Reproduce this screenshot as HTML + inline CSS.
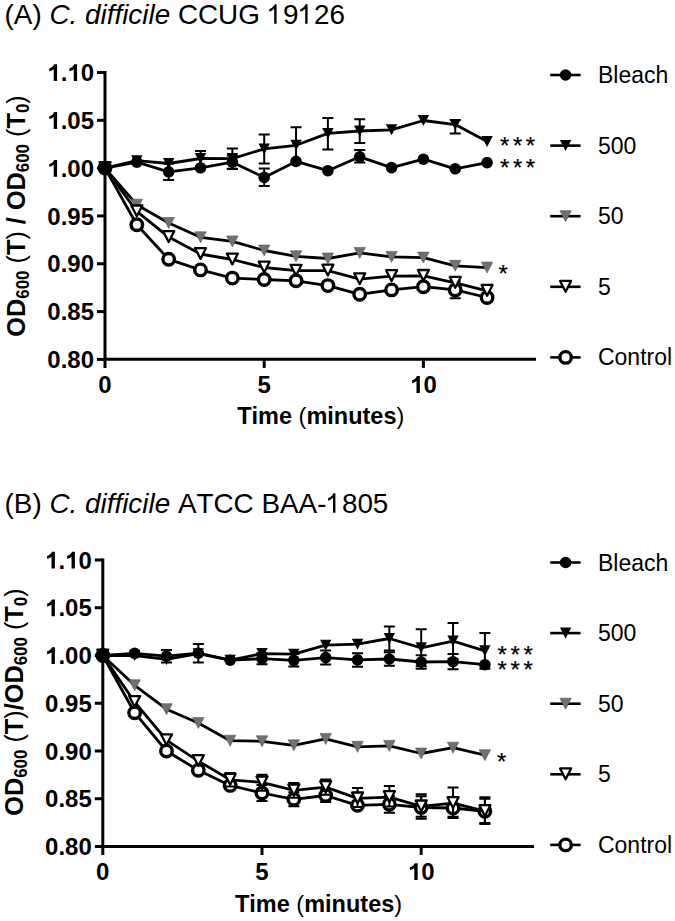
<!DOCTYPE html>
<html><head><meta charset="utf-8"><style>
html,body{margin:0;padding:0;background:#fff;}
svg{display:block;}
text{font-family:"Liberation Sans", sans-serif;font-kerning:none;}
.tk{font-weight:bold;font-size:24px;}
.ax{font-size:23.5px;}
.yl{font-weight:bold;font-size:25.3px;}
.p{font-weight:normal;}
.sub{font-size:16.9px;}
.lg{font-size:23px;}
.ti{font-size:27.85px;}
.st{font-size:24px;stroke:#000;stroke-width:0.2px;}
</style></head><body>
<svg width="675" height="921" viewBox="0 0 675 921">
<rect width="675" height="921" fill="#fff"/>
<text x="4.6" y="23.8" class="ti">(A) <tspan font-style="italic">C. difficile</tspan> CCUG &#8199;9&#8199;26</text>
<path d="M658 0L482 0L482 1100C430 1050 360 1000 290 960C230 925 170 905 121 890L121 1070C220 1110 310 1170 380 1240C450 1310 500 1370 525 1430L658 1430Z" transform="translate(267.652,23.800) scale(0.013599,-0.013599)" fill="#000"/><path d="M658 0L482 0L482 1100C430 1050 360 1000 290 960C230 925 170 905 121 890L121 1070C220 1110 310 1170 380 1240C450 1310 500 1370 525 1430L658 1430Z" transform="translate(298.630,23.800) scale(0.013599,-0.013599)" fill="#000"/>
<path d="M105.00,71.00V367.90" stroke="#000" stroke-width="3" fill="none"/>
<path d="M105.00,359.30H536.00" stroke="#000" stroke-width="3" fill="none"/>
<path d="M97.00,72.50H105.00" stroke="#000" stroke-width="3"/>
<text x="94.00" y="81.10" transform="matrix(1,0,0,1.035,0,-2.838)" text-anchor="end" class="tk">&#8199;.&#8199;0</text><path d="M836 0L550 0L550 1020C450 930 320 875 170 850L170 1080C260 1105 350 1150 430 1215C510 1280 565 1350 590 1434L836 1434Z" transform="translate(47.289,81.100) scale(0.011719,-0.011719)" fill="#000"/><path d="M836 0L550 0L550 1020C450 930 320 875 170 850L170 1080C260 1105 350 1150 430 1215C510 1280 565 1350 590 1434L836 1434Z" transform="translate(67.305,81.100) scale(0.011719,-0.011719)" fill="#000"/>
<path d="M97.00,120.32H105.00" stroke="#000" stroke-width="3"/>
<text x="94.00" y="128.92" transform="matrix(1,0,0,1.035,0,-4.512)" text-anchor="end" class="tk">&#8199;.05</text><path d="M836 0L550 0L550 1020C450 930 320 875 170 850L170 1080C260 1105 350 1150 430 1215C510 1280 565 1350 590 1434L836 1434Z" transform="translate(47.289,128.917) scale(0.011719,-0.011719)" fill="#000"/>
<path d="M97.00,168.13H105.00" stroke="#000" stroke-width="3"/>
<text x="94.00" y="176.73" transform="matrix(1,0,0,1.035,0,-6.186)" text-anchor="end" class="tk">&#8199;.00</text><path d="M836 0L550 0L550 1020C450 930 320 875 170 850L170 1080C260 1105 350 1150 430 1215C510 1280 565 1350 590 1434L836 1434Z" transform="translate(47.289,176.733) scale(0.011719,-0.011719)" fill="#000"/>
<path d="M97.00,215.95H105.00" stroke="#000" stroke-width="3"/>
<text x="94.00" y="224.55" transform="matrix(1,0,0,1.035,0,-7.859)" text-anchor="end" class="tk">0.95</text>
<path d="M97.00,263.77H105.00" stroke="#000" stroke-width="3"/>
<text x="94.00" y="272.37" transform="matrix(1,0,0,1.035,0,-9.533)" text-anchor="end" class="tk">0.90</text>
<path d="M97.00,311.58H105.00" stroke="#000" stroke-width="3"/>
<text x="94.00" y="320.18" transform="matrix(1,0,0,1.035,0,-11.206)" text-anchor="end" class="tk">0.85</text>
<path d="M97.00,359.40H105.00" stroke="#000" stroke-width="3"/>
<text x="94.00" y="368.00" transform="matrix(1,0,0,1.035,0,-12.880)" text-anchor="end" class="tk">0.80</text>
<path d="M264.20,359.30V367.90" stroke="#000" stroke-width="3"/>
<path d="M423.40,359.30V367.90" stroke="#000" stroke-width="3"/>
<text x="105.00" y="392.90" transform="matrix(1,0,0,1.035,0,-13.751)" text-anchor="middle" class="tk">0</text>
<text x="264.20" y="392.90" transform="matrix(1,0,0,1.035,0,-13.751)" text-anchor="middle" class="tk">5</text>
<text x="423.40" y="392.90" transform="matrix(1,0,0,1.035,0,-13.751)" text-anchor="middle" class="tk">&#8199;0</text><path d="M836 0L550 0L550 1020C450 930 320 875 170 850L170 1080C260 1105 350 1150 430 1215C510 1280 565 1350 590 1434L836 1434Z" transform="translate(410.052,392.900) scale(0.011719,-0.011719)" fill="#000"/>
<text x="320.75" y="423.90" transform="matrix(1,0,0,1.035,0,-14.836)" text-anchor="middle" class="tk ax">Time <tspan class="p">(</tspan>minutes<tspan class="p">)</tspan></text>
<text transform="translate(25.0,215.95) rotate(-90) scale(1,1.035)" text-anchor="middle" class="yl">OD<tspan class="sub" dy="4.2">600</tspan><tspan dy="-4.2"> </tspan><tspan class="p">(</tspan>T<tspan class="p">)</tspan> / OD<tspan class="sub" dy="4.2">600</tspan><tspan dy="-4.2"> </tspan><tspan class="p">(</tspan>T<tspan class="sub" dy="4.2">0</tspan><tspan class="p" dy="-4.2">)</tspan></text>
<polyline points="105.00,168.10 136.84,224.80 168.68,259.30 200.52,269.90 232.36,278.10 264.20,279.50 296.04,280.80 327.88,285.60 359.72,294.30 391.56,289.90 423.40,286.70 455.24,289.90 487.08,297.50" fill="none" stroke="#000" stroke-width="2.8" stroke-linejoin="round"/>
<path d="M455.24,281.50V298.30M449.74,281.50H460.74M449.74,298.30H460.74" stroke="#000" stroke-width="2" fill="none"/>
<circle cx="105.00" cy="168.10" r="5.75" fill="#fff" stroke="#000" stroke-width="3.4"/>
<circle cx="136.84" cy="224.80" r="5.75" fill="#fff" stroke="#000" stroke-width="3.4"/>
<circle cx="168.68" cy="259.30" r="5.75" fill="#fff" stroke="#000" stroke-width="3.4"/>
<circle cx="200.52" cy="269.90" r="5.75" fill="#fff" stroke="#000" stroke-width="3.4"/>
<circle cx="232.36" cy="278.10" r="5.75" fill="#fff" stroke="#000" stroke-width="3.4"/>
<circle cx="264.20" cy="279.50" r="5.75" fill="#fff" stroke="#000" stroke-width="3.4"/>
<circle cx="296.04" cy="280.80" r="5.75" fill="#fff" stroke="#000" stroke-width="3.4"/>
<circle cx="327.88" cy="285.60" r="5.75" fill="#fff" stroke="#000" stroke-width="3.4"/>
<circle cx="359.72" cy="294.30" r="5.75" fill="#fff" stroke="#000" stroke-width="3.4"/>
<circle cx="391.56" cy="289.90" r="5.75" fill="#fff" stroke="#000" stroke-width="3.4"/>
<circle cx="423.40" cy="286.70" r="5.75" fill="#fff" stroke="#000" stroke-width="3.4"/>
<circle cx="455.24" cy="289.90" r="5.75" fill="#fff" stroke="#000" stroke-width="3.4"/>
<circle cx="487.08" cy="297.50" r="5.75" fill="#fff" stroke="#000" stroke-width="3.4"/>
<polyline points="105.00,168.10 136.84,204.70 168.68,223.00 200.52,237.30 232.36,241.40 264.20,250.50 296.04,256.30 327.88,258.50 359.72,252.90 391.56,256.90 423.40,257.60 455.24,265.80 487.08,267.60" fill="none" stroke="#000" stroke-width="2.8" stroke-linejoin="round"/>
<path d="M99.30,162.60H110.70L105.00,173.60Z" fill="#707070" stroke="#555" stroke-width="0.6"/>
<path d="M131.14,199.20H142.54L136.84,210.20Z" fill="#707070" stroke="#555" stroke-width="0.6"/>
<path d="M162.98,217.50H174.38L168.68,228.50Z" fill="#707070" stroke="#555" stroke-width="0.6"/>
<path d="M194.82,231.80H206.22L200.52,242.80Z" fill="#707070" stroke="#555" stroke-width="0.6"/>
<path d="M226.66,235.90H238.06L232.36,246.90Z" fill="#707070" stroke="#555" stroke-width="0.6"/>
<path d="M258.50,245.00H269.90L264.20,256.00Z" fill="#707070" stroke="#555" stroke-width="0.6"/>
<path d="M290.34,250.80H301.74L296.04,261.80Z" fill="#707070" stroke="#555" stroke-width="0.6"/>
<path d="M322.18,253.00H333.58L327.88,264.00Z" fill="#707070" stroke="#555" stroke-width="0.6"/>
<path d="M354.02,247.40H365.42L359.72,258.40Z" fill="#707070" stroke="#555" stroke-width="0.6"/>
<path d="M385.86,251.40H397.26L391.56,262.40Z" fill="#707070" stroke="#555" stroke-width="0.6"/>
<path d="M417.70,252.10H429.10L423.40,263.10Z" fill="#707070" stroke="#555" stroke-width="0.6"/>
<path d="M449.54,260.30H460.94L455.24,271.30Z" fill="#707070" stroke="#555" stroke-width="0.6"/>
<path d="M481.38,262.10H492.78L487.08,273.10Z" fill="#707070" stroke="#555" stroke-width="0.6"/>
<polyline points="105.00,168.10 136.84,211.40 168.68,237.10 200.52,254.00 232.36,259.50 264.20,267.50 296.04,270.70 327.88,270.60 359.72,279.20 391.56,276.10 423.40,275.90 455.24,282.80 487.08,290.80" fill="none" stroke="#000" stroke-width="2.8" stroke-linejoin="round"/>
<path d="M99.50,162.20H110.50L105.00,173.00Z" fill="#fff" stroke="#000" stroke-width="2.3" stroke-linejoin="round"/>
<path d="M131.34,205.50H142.34L136.84,216.30Z" fill="#fff" stroke="#000" stroke-width="2.3" stroke-linejoin="round"/>
<path d="M163.18,231.20H174.18L168.68,242.00Z" fill="#fff" stroke="#000" stroke-width="2.3" stroke-linejoin="round"/>
<path d="M195.02,248.10H206.02L200.52,258.90Z" fill="#fff" stroke="#000" stroke-width="2.3" stroke-linejoin="round"/>
<path d="M226.86,253.60H237.86L232.36,264.40Z" fill="#fff" stroke="#000" stroke-width="2.3" stroke-linejoin="round"/>
<path d="M258.70,261.60H269.70L264.20,272.40Z" fill="#fff" stroke="#000" stroke-width="2.3" stroke-linejoin="round"/>
<path d="M290.54,264.80H301.54L296.04,275.60Z" fill="#fff" stroke="#000" stroke-width="2.3" stroke-linejoin="round"/>
<path d="M322.38,264.70H333.38L327.88,275.50Z" fill="#fff" stroke="#000" stroke-width="2.3" stroke-linejoin="round"/>
<path d="M354.22,273.30H365.22L359.72,284.10Z" fill="#fff" stroke="#000" stroke-width="2.3" stroke-linejoin="round"/>
<path d="M386.06,270.20H397.06L391.56,281.00Z" fill="#fff" stroke="#000" stroke-width="2.3" stroke-linejoin="round"/>
<path d="M417.90,270.00H428.90L423.40,280.80Z" fill="#fff" stroke="#000" stroke-width="2.3" stroke-linejoin="round"/>
<path d="M449.74,276.90H460.74L455.24,287.70Z" fill="#fff" stroke="#000" stroke-width="2.3" stroke-linejoin="round"/>
<path d="M481.58,284.90H492.58L487.08,295.70Z" fill="#fff" stroke="#000" stroke-width="2.3" stroke-linejoin="round"/>
<polyline points="105.00,168.10 136.84,160.70 168.68,163.50 200.52,158.50 232.36,158.60 264.20,148.90 296.04,145.30 327.88,133.40 359.72,131.00 391.56,129.80 423.40,120.50 455.24,124.60 487.08,141.40" fill="none" stroke="#000" stroke-width="2.8" stroke-linejoin="round"/>
<path d="M200.52,151.00V166.00M195.02,151.00H206.02M195.02,166.00H206.02" stroke="#000" stroke-width="2" fill="none"/>
<path d="M232.36,148.40V168.80M226.86,148.40H237.86M226.86,168.80H237.86" stroke="#000" stroke-width="2" fill="none"/>
<path d="M264.20,134.60V163.40M258.70,134.60H269.70M258.70,163.40H269.70" stroke="#000" stroke-width="2" fill="none"/>
<path d="M296.04,127.30V163.30M290.54,127.30H301.54M290.54,163.30H301.54" stroke="#000" stroke-width="2" fill="none"/>
<path d="M327.88,117.90V149.40M322.38,117.90H333.38M322.38,149.40H333.38" stroke="#000" stroke-width="2" fill="none"/>
<path d="M359.72,119.20V143.00M354.22,119.20H365.22M354.22,143.00H365.22" stroke="#000" stroke-width="2" fill="none"/>
<path d="M455.24,120.00V133.60M449.74,120.00H460.74M449.74,133.60H460.74" stroke="#000" stroke-width="2" fill="none"/>
<path d="M99.30,162.60H110.70L105.00,173.60Z" fill="#000"/>
<path d="M131.14,155.20H142.54L136.84,166.20Z" fill="#000"/>
<path d="M162.98,158.00H174.38L168.68,169.00Z" fill="#000"/>
<path d="M194.82,153.00H206.22L200.52,164.00Z" fill="#000"/>
<path d="M226.66,153.10H238.06L232.36,164.10Z" fill="#000"/>
<path d="M258.50,143.40H269.90L264.20,154.40Z" fill="#000"/>
<path d="M290.34,139.80H301.74L296.04,150.80Z" fill="#000"/>
<path d="M322.18,127.90H333.58L327.88,138.90Z" fill="#000"/>
<path d="M354.02,125.50H365.42L359.72,136.50Z" fill="#000"/>
<path d="M385.86,124.30H397.26L391.56,135.30Z" fill="#000"/>
<path d="M417.70,115.00H429.10L423.40,126.00Z" fill="#000"/>
<path d="M449.54,119.10H460.94L455.24,130.10Z" fill="#000"/>
<path d="M481.38,135.90H492.78L487.08,146.90Z" fill="#000"/>
<polyline points="105.00,168.10 136.84,162.20 168.68,171.80 200.52,167.80 232.36,162.20 264.20,177.40 296.04,161.40 327.88,170.70 359.72,156.80 391.56,167.60 423.40,159.20 455.24,168.80 487.08,162.60" fill="none" stroke="#000" stroke-width="2.8" stroke-linejoin="round"/>
<path d="M168.68,163.60V180.00M163.18,163.60H174.18M163.18,180.00H174.18" stroke="#000" stroke-width="2" fill="none"/>
<path d="M232.36,155.50V168.90M226.86,155.50H237.86M226.86,168.90H237.86" stroke="#000" stroke-width="2" fill="none"/>
<path d="M264.20,168.50V186.10M258.70,168.50H269.70M258.70,186.10H269.70" stroke="#000" stroke-width="2" fill="none"/>
<path d="M359.72,149.90V162.60M354.22,149.90H365.22M354.22,162.60H365.22" stroke="#000" stroke-width="2" fill="none"/>
<circle cx="105.00" cy="168.10" r="5.8" fill="#000"/>
<circle cx="136.84" cy="162.20" r="5.8" fill="#000"/>
<circle cx="168.68" cy="171.80" r="5.8" fill="#000"/>
<circle cx="200.52" cy="167.80" r="5.8" fill="#000"/>
<circle cx="232.36" cy="162.20" r="5.8" fill="#000"/>
<circle cx="264.20" cy="177.40" r="5.8" fill="#000"/>
<circle cx="296.04" cy="161.40" r="5.8" fill="#000"/>
<circle cx="327.88" cy="170.70" r="5.8" fill="#000"/>
<circle cx="359.72" cy="156.80" r="5.8" fill="#000"/>
<circle cx="391.56" cy="167.60" r="5.8" fill="#000"/>
<circle cx="423.40" cy="159.20" r="5.8" fill="#000"/>
<circle cx="455.24" cy="168.80" r="5.8" fill="#000"/>
<circle cx="487.08" cy="162.60" r="5.8" fill="#000"/>
<path d="M550.2,75.00H580.6" stroke="#000" stroke-width="2.6"/>
<circle cx="565.60" cy="75.00" r="5.8" fill="#000"/>
<text x="598" y="83.10" transform="matrix(1,0,0,1.035,0,-2.908)" class="lg">Bleach</text>
<path d="M550.2,145.60H580.6" stroke="#000" stroke-width="2.6"/>
<path d="M559.90,140.10H571.30L565.60,151.10Z" fill="#000"/>
<text x="598" y="153.70" transform="matrix(1,0,0,1.035,0,-5.379)" class="lg">500</text>
<path d="M550.2,216.20H580.6" stroke="#000" stroke-width="2.6"/>
<path d="M559.90,210.70H571.30L565.60,221.70Z" fill="#707070" stroke="#555" stroke-width="0.6"/>
<text x="598" y="224.30" transform="matrix(1,0,0,1.035,0,-7.850)" class="lg">50</text>
<path d="M550.2,286.80H580.6" stroke="#000" stroke-width="2.6"/>
<path d="M560.10,280.90H571.10L565.60,291.70Z" fill="#fff" stroke="#000" stroke-width="2.3" stroke-linejoin="round"/>
<text x="598" y="294.90" transform="matrix(1,0,0,1.035,0,-10.321)" class="lg">5</text>
<path d="M550.2,357.40H580.6" stroke="#000" stroke-width="2.6"/>
<circle cx="565.60" cy="357.40" r="5.75" fill="#fff" stroke="#000" stroke-width="3.4"/>
<text x="598" y="365.50" transform="matrix(1,0,0,1.035,0,-12.792)" class="lg">Control</text>
<text x="500.00" y="154.50" transform="matrix(1,0,0,1.035,0,-5.407)" class="st">*</text>
<text x="512.90" y="154.50" transform="matrix(1,0,0,1.035,0,-5.407)" class="st">*</text>
<text x="525.80" y="154.50" transform="matrix(1,0,0,1.035,0,-5.407)" class="st">*</text>
<text x="500.00" y="175.80" transform="matrix(1,0,0,1.035,0,-6.153)" class="st">*</text>
<text x="512.90" y="175.80" transform="matrix(1,0,0,1.035,0,-6.153)" class="st">*</text>
<text x="525.80" y="175.80" transform="matrix(1,0,0,1.035,0,-6.153)" class="st">*</text>
<text x="498.60" y="281.90" transform="matrix(1,0,0,1.035,0,-9.866)" class="st">*</text>
<text x="4.6" y="512.8" class="ti">(B) <tspan font-style="italic">C. difficile</tspan> ATCC BAA-&#8199;805</text>
<path d="M658 0L482 0L482 1100C430 1050 360 1000 290 960C230 925 170 905 121 890L121 1070C220 1110 310 1170 380 1240C450 1310 500 1370 525 1430L658 1430Z" transform="translate(326.466,512.800) scale(0.013599,-0.013599)" fill="#000"/>
<path d="M102.80,558.50V855.00" stroke="#000" stroke-width="3" fill="none"/>
<path d="M102.80,846.50H534.00" stroke="#000" stroke-width="3" fill="none"/>
<path d="M94.80,560.00H102.80" stroke="#000" stroke-width="3"/>
<text x="91.80" y="568.60" transform="matrix(1,0,0,1.035,0,-19.901)" text-anchor="end" class="tk">&#8199;.&#8199;0</text><path d="M836 0L550 0L550 1020C450 930 320 875 170 850L170 1080C260 1105 350 1150 430 1215C510 1280 565 1350 590 1434L836 1434Z" transform="translate(45.089,568.600) scale(0.011719,-0.011719)" fill="#000"/><path d="M836 0L550 0L550 1020C450 930 320 875 170 850L170 1080C260 1105 350 1150 430 1215C510 1280 565 1350 590 1434L836 1434Z" transform="translate(65.105,568.600) scale(0.011719,-0.011719)" fill="#000"/>
<path d="M94.80,607.75H102.80" stroke="#000" stroke-width="3"/>
<text x="91.80" y="616.35" transform="matrix(1,0,0,1.035,0,-21.572)" text-anchor="end" class="tk">&#8199;.05</text><path d="M836 0L550 0L550 1020C450 930 320 875 170 850L170 1080C260 1105 350 1150 430 1215C510 1280 565 1350 590 1434L836 1434Z" transform="translate(45.089,616.350) scale(0.011719,-0.011719)" fill="#000"/>
<path d="M94.80,655.50H102.80" stroke="#000" stroke-width="3"/>
<text x="91.80" y="664.10" transform="matrix(1,0,0,1.035,0,-23.243)" text-anchor="end" class="tk">&#8199;.00</text><path d="M836 0L550 0L550 1020C450 930 320 875 170 850L170 1080C260 1105 350 1150 430 1215C510 1280 565 1350 590 1434L836 1434Z" transform="translate(45.089,664.100) scale(0.011719,-0.011719)" fill="#000"/>
<path d="M94.80,703.25H102.80" stroke="#000" stroke-width="3"/>
<text x="91.80" y="711.85" transform="matrix(1,0,0,1.035,0,-24.915)" text-anchor="end" class="tk">0.95</text>
<path d="M94.80,751.00H102.80" stroke="#000" stroke-width="3"/>
<text x="91.80" y="759.60" transform="matrix(1,0,0,1.035,0,-26.586)" text-anchor="end" class="tk">0.90</text>
<path d="M94.80,798.75H102.80" stroke="#000" stroke-width="3"/>
<text x="91.80" y="807.35" transform="matrix(1,0,0,1.035,0,-28.257)" text-anchor="end" class="tk">0.85</text>
<path d="M94.80,846.50H102.80" stroke="#000" stroke-width="3"/>
<text x="91.80" y="855.10" transform="matrix(1,0,0,1.035,0,-29.928)" text-anchor="end" class="tk">0.80</text>
<path d="M262.00,846.50V855.00" stroke="#000" stroke-width="3"/>
<path d="M421.20,846.50V855.00" stroke="#000" stroke-width="3"/>
<text x="102.80" y="880.00" transform="matrix(1,0,0,1.035,0,-30.800)" text-anchor="middle" class="tk">0</text>
<text x="262.00" y="880.00" transform="matrix(1,0,0,1.035,0,-30.800)" text-anchor="middle" class="tk">5</text>
<text x="421.20" y="880.00" transform="matrix(1,0,0,1.035,0,-30.800)" text-anchor="middle" class="tk">&#8199;0</text><path d="M836 0L550 0L550 1020C450 930 320 875 170 850L170 1080C260 1105 350 1150 430 1215C510 1280 565 1350 590 1434L836 1434Z" transform="translate(407.852,880.000) scale(0.011719,-0.011719)" fill="#000"/>
<text x="318.55" y="911.80" transform="matrix(1,0,0,1.035,0,-31.913)" text-anchor="middle" class="tk ax">Time <tspan class="p">(</tspan>minutes<tspan class="p">)</tspan></text>
<text transform="translate(22.7,702.05) rotate(-90) scale(1,1.035)" text-anchor="middle" class="yl">OD<tspan class="sub" dy="4.2">600</tspan><tspan dy="-4.2"> </tspan><tspan class="p">(</tspan>T<tspan class="p">)</tspan>/OD<tspan class="sub" dy="4.2">600</tspan><tspan dy="-4.2"> </tspan><tspan class="p">(</tspan>T<tspan class="sub" dy="4.2">0</tspan><tspan class="p" dy="-4.2">)</tspan></text>
<polyline points="102.80,655.50 134.64,712.70 166.48,751.00 198.32,770.30 230.16,785.40 262.00,793.00 293.84,799.30 325.68,795.50 357.52,805.30 389.36,804.30 421.20,807.50 453.04,808.00 484.88,811.30" fill="none" stroke="#000" stroke-width="2.8" stroke-linejoin="round"/>
<path d="M262.00,784.90V801.10M256.50,784.90H267.50M256.50,801.10H267.50" stroke="#000" stroke-width="2" fill="none"/>
<path d="M293.84,792.30V806.30M288.34,792.30H299.34M288.34,806.30H299.34" stroke="#000" stroke-width="2" fill="none"/>
<path d="M325.68,789.00V802.00M320.18,789.00H331.18M320.18,802.00H331.18" stroke="#000" stroke-width="2" fill="none"/>
<path d="M389.36,795.90V812.70M383.86,795.90H394.86M383.86,812.70H394.86" stroke="#000" stroke-width="2" fill="none"/>
<path d="M421.20,796.30V818.70M415.70,796.30H426.70M415.70,818.70H426.70" stroke="#000" stroke-width="2" fill="none"/>
<path d="M453.04,798.00V818.00M447.54,798.00H458.54M447.54,818.00H458.54" stroke="#000" stroke-width="2" fill="none"/>
<path d="M484.88,798.70V823.90M479.38,798.70H490.38M479.38,823.90H490.38" stroke="#000" stroke-width="2" fill="none"/>
<circle cx="102.80" cy="655.50" r="5.75" fill="#fff" stroke="#000" stroke-width="3.4"/>
<circle cx="134.64" cy="712.70" r="5.75" fill="#fff" stroke="#000" stroke-width="3.4"/>
<circle cx="166.48" cy="751.00" r="5.75" fill="#fff" stroke="#000" stroke-width="3.4"/>
<circle cx="198.32" cy="770.30" r="5.75" fill="#fff" stroke="#000" stroke-width="3.4"/>
<circle cx="230.16" cy="785.40" r="5.75" fill="#fff" stroke="#000" stroke-width="3.4"/>
<circle cx="262.00" cy="793.00" r="5.75" fill="#fff" stroke="#000" stroke-width="3.4"/>
<circle cx="293.84" cy="799.30" r="5.75" fill="#fff" stroke="#000" stroke-width="3.4"/>
<circle cx="325.68" cy="795.50" r="5.75" fill="#fff" stroke="#000" stroke-width="3.4"/>
<circle cx="357.52" cy="805.30" r="5.75" fill="#fff" stroke="#000" stroke-width="3.4"/>
<circle cx="389.36" cy="804.30" r="5.75" fill="#fff" stroke="#000" stroke-width="3.4"/>
<circle cx="421.20" cy="807.50" r="5.75" fill="#fff" stroke="#000" stroke-width="3.4"/>
<circle cx="453.04" cy="808.00" r="5.75" fill="#fff" stroke="#000" stroke-width="3.4"/>
<circle cx="484.88" cy="811.30" r="5.75" fill="#fff" stroke="#000" stroke-width="3.4"/>
<polyline points="102.80,655.50 134.64,685.30 166.48,709.20 198.32,723.00 230.16,740.70 262.00,741.30 293.84,745.30 325.68,738.90 357.52,746.80 389.36,745.90 421.20,753.50 453.04,747.70 484.88,755.20" fill="none" stroke="#000" stroke-width="2.8" stroke-linejoin="round"/>
<path d="M97.10,650.00H108.50L102.80,661.00Z" fill="#707070" stroke="#555" stroke-width="0.6"/>
<path d="M128.94,679.80H140.34L134.64,690.80Z" fill="#707070" stroke="#555" stroke-width="0.6"/>
<path d="M160.78,703.70H172.18L166.48,714.70Z" fill="#707070" stroke="#555" stroke-width="0.6"/>
<path d="M192.62,717.50H204.02L198.32,728.50Z" fill="#707070" stroke="#555" stroke-width="0.6"/>
<path d="M224.46,735.20H235.86L230.16,746.20Z" fill="#707070" stroke="#555" stroke-width="0.6"/>
<path d="M256.30,735.80H267.70L262.00,746.80Z" fill="#707070" stroke="#555" stroke-width="0.6"/>
<path d="M288.14,739.80H299.54L293.84,750.80Z" fill="#707070" stroke="#555" stroke-width="0.6"/>
<path d="M319.98,733.40H331.38L325.68,744.40Z" fill="#707070" stroke="#555" stroke-width="0.6"/>
<path d="M351.82,741.30H363.22L357.52,752.30Z" fill="#707070" stroke="#555" stroke-width="0.6"/>
<path d="M383.66,740.40H395.06L389.36,751.40Z" fill="#707070" stroke="#555" stroke-width="0.6"/>
<path d="M415.50,748.00H426.90L421.20,759.00Z" fill="#707070" stroke="#555" stroke-width="0.6"/>
<path d="M447.34,742.20H458.74L453.04,753.20Z" fill="#707070" stroke="#555" stroke-width="0.6"/>
<path d="M479.18,749.70H490.58L484.88,760.70Z" fill="#707070" stroke="#555" stroke-width="0.6"/>
<polyline points="102.80,655.50 134.64,702.00 166.48,740.20 198.32,761.10 230.16,779.80 262.00,782.40 293.84,790.40 325.68,787.10 357.52,798.40 389.36,797.10 421.20,806.40 453.04,803.10 484.88,811.10" fill="none" stroke="#000" stroke-width="2.8" stroke-linejoin="round"/>
<path d="M230.16,773.00V786.50M224.66,773.00H235.66M224.66,786.50H235.66" stroke="#000" stroke-width="2" fill="none"/>
<path d="M262.00,774.70V790.70M256.50,774.70H267.50M256.50,790.70H267.50" stroke="#000" stroke-width="2" fill="none"/>
<path d="M293.84,783.10V797.70M288.34,783.10H299.34M288.34,797.70H299.34" stroke="#000" stroke-width="2" fill="none"/>
<path d="M325.68,779.40V794.80M320.18,779.40H331.18M320.18,794.80H331.18" stroke="#000" stroke-width="2" fill="none"/>
<path d="M357.52,788.00V807.00M352.02,788.00H363.02M352.02,807.00H363.02" stroke="#000" stroke-width="2" fill="none"/>
<path d="M389.36,786.00V806.40M383.86,786.00H394.86M383.86,806.40H394.86" stroke="#000" stroke-width="2" fill="none"/>
<path d="M421.20,794.30V816.70M415.70,794.30H426.70M415.70,816.70H426.70" stroke="#000" stroke-width="2" fill="none"/>
<path d="M453.04,787.60V816.80M447.54,787.60H458.54M447.54,816.80H458.54" stroke="#000" stroke-width="2" fill="none"/>
<path d="M484.88,797.30V823.10M479.38,797.30H490.38M479.38,823.10H490.38" stroke="#000" stroke-width="2" fill="none"/>
<path d="M97.30,649.60H108.30L102.80,660.40Z" fill="#fff" stroke="#000" stroke-width="2.3" stroke-linejoin="round"/>
<path d="M129.14,696.10H140.14L134.64,706.90Z" fill="#fff" stroke="#000" stroke-width="2.3" stroke-linejoin="round"/>
<path d="M160.98,734.30H171.98L166.48,745.10Z" fill="#fff" stroke="#000" stroke-width="2.3" stroke-linejoin="round"/>
<path d="M192.82,755.20H203.82L198.32,766.00Z" fill="#fff" stroke="#000" stroke-width="2.3" stroke-linejoin="round"/>
<path d="M224.66,773.90H235.66L230.16,784.70Z" fill="#fff" stroke="#000" stroke-width="2.3" stroke-linejoin="round"/>
<path d="M256.50,776.50H267.50L262.00,787.30Z" fill="#fff" stroke="#000" stroke-width="2.3" stroke-linejoin="round"/>
<path d="M288.34,784.50H299.34L293.84,795.30Z" fill="#fff" stroke="#000" stroke-width="2.3" stroke-linejoin="round"/>
<path d="M320.18,781.20H331.18L325.68,792.00Z" fill="#fff" stroke="#000" stroke-width="2.3" stroke-linejoin="round"/>
<path d="M352.02,792.50H363.02L357.52,803.30Z" fill="#fff" stroke="#000" stroke-width="2.3" stroke-linejoin="round"/>
<path d="M383.86,791.20H394.86L389.36,802.00Z" fill="#fff" stroke="#000" stroke-width="2.3" stroke-linejoin="round"/>
<path d="M415.70,800.50H426.70L421.20,811.30Z" fill="#fff" stroke="#000" stroke-width="2.3" stroke-linejoin="round"/>
<path d="M447.54,797.20H458.54L453.04,808.00Z" fill="#fff" stroke="#000" stroke-width="2.3" stroke-linejoin="round"/>
<path d="M479.38,805.20H490.38L484.88,816.00Z" fill="#fff" stroke="#000" stroke-width="2.3" stroke-linejoin="round"/>
<polyline points="102.80,655.50 134.64,655.50 166.48,659.40 198.32,653.70 230.16,660.20 262.00,653.60 293.84,654.20 325.68,645.20 357.52,644.20 389.36,638.50 421.20,647.80 453.04,641.10 484.88,650.80" fill="none" stroke="#000" stroke-width="2.8" stroke-linejoin="round"/>
<path d="M389.36,626.40V650.40M383.86,626.40H394.86M383.86,650.40H394.86" stroke="#000" stroke-width="2" fill="none"/>
<path d="M421.20,629.30V666.30M415.70,629.30H426.70M415.70,666.30H426.70" stroke="#000" stroke-width="2" fill="none"/>
<path d="M453.04,623.10V659.10M447.54,623.10H458.54M447.54,659.10H458.54" stroke="#000" stroke-width="2" fill="none"/>
<path d="M484.88,632.90V668.70M479.38,632.90H490.38M479.38,668.70H490.38" stroke="#000" stroke-width="2" fill="none"/>
<path d="M97.10,650.00H108.50L102.80,661.00Z" fill="#000"/>
<path d="M128.94,650.00H140.34L134.64,661.00Z" fill="#000"/>
<path d="M160.78,653.90H172.18L166.48,664.90Z" fill="#000"/>
<path d="M192.62,648.20H204.02L198.32,659.20Z" fill="#000"/>
<path d="M224.46,654.70H235.86L230.16,665.70Z" fill="#000"/>
<path d="M256.30,648.10H267.70L262.00,659.10Z" fill="#000"/>
<path d="M288.14,648.70H299.54L293.84,659.70Z" fill="#000"/>
<path d="M319.98,639.70H331.38L325.68,650.70Z" fill="#000"/>
<path d="M351.82,638.70H363.22L357.52,649.70Z" fill="#000"/>
<path d="M383.66,633.00H395.06L389.36,644.00Z" fill="#000"/>
<path d="M415.50,642.30H426.90L421.20,653.30Z" fill="#000"/>
<path d="M447.34,635.60H458.74L453.04,646.60Z" fill="#000"/>
<path d="M479.18,645.30H490.58L484.88,656.30Z" fill="#000"/>
<polyline points="102.80,655.50 134.64,653.40 166.48,656.20 198.32,653.20 230.16,660.20 262.00,658.70 293.84,660.30 325.68,657.60 357.52,659.80 389.36,659.00 421.20,662.00 453.04,661.70 484.88,664.70" fill="none" stroke="#000" stroke-width="2.8" stroke-linejoin="round"/>
<path d="M166.48,649.90V662.50M160.98,649.90H171.98M160.98,662.50H171.98" stroke="#000" stroke-width="2" fill="none"/>
<path d="M198.32,644.10V662.40M192.82,644.10H203.82M192.82,662.40H203.82" stroke="#000" stroke-width="2" fill="none"/>
<path d="M262.00,653.10V664.30M256.50,653.10H267.50M256.50,664.30H267.50" stroke="#000" stroke-width="2" fill="none"/>
<path d="M293.84,654.00V666.60M288.34,654.00H299.34M288.34,666.60H299.34" stroke="#000" stroke-width="2" fill="none"/>
<path d="M325.68,650.40V664.40M320.18,650.40H331.18M320.18,664.40H331.18" stroke="#000" stroke-width="2" fill="none"/>
<path d="M357.52,653.30V666.70M352.02,653.30H363.02M352.02,666.70H363.02" stroke="#000" stroke-width="2" fill="none"/>
<path d="M389.36,652.30V665.70M383.86,652.30H394.86M383.86,665.70H394.86" stroke="#000" stroke-width="2" fill="none"/>
<path d="M421.20,655.30V668.70M415.70,655.30H426.70M415.70,668.70H426.70" stroke="#000" stroke-width="2" fill="none"/>
<path d="M453.04,654.00V669.30M447.54,654.00H458.54M447.54,669.30H458.54" stroke="#000" stroke-width="2" fill="none"/>
<circle cx="102.80" cy="655.50" r="5.8" fill="#000"/>
<circle cx="134.64" cy="653.40" r="5.8" fill="#000"/>
<circle cx="166.48" cy="656.20" r="5.8" fill="#000"/>
<circle cx="198.32" cy="653.20" r="5.8" fill="#000"/>
<circle cx="230.16" cy="660.20" r="5.8" fill="#000"/>
<circle cx="262.00" cy="658.70" r="5.8" fill="#000"/>
<circle cx="293.84" cy="660.30" r="5.8" fill="#000"/>
<circle cx="325.68" cy="657.60" r="5.8" fill="#000"/>
<circle cx="357.52" cy="659.80" r="5.8" fill="#000"/>
<circle cx="389.36" cy="659.00" r="5.8" fill="#000"/>
<circle cx="421.20" cy="662.00" r="5.8" fill="#000"/>
<circle cx="453.04" cy="661.70" r="5.8" fill="#000"/>
<circle cx="484.88" cy="664.70" r="5.8" fill="#000"/>
<path d="M550.2,562.50H580.6" stroke="#000" stroke-width="2.6"/>
<circle cx="565.60" cy="562.50" r="5.8" fill="#000"/>
<text x="598" y="570.60" transform="matrix(1,0,0,1.035,0,-19.971)" class="lg">Bleach</text>
<path d="M550.2,633.10H580.6" stroke="#000" stroke-width="2.6"/>
<path d="M559.90,627.60H571.30L565.60,638.60Z" fill="#000"/>
<text x="598" y="641.20" transform="matrix(1,0,0,1.035,0,-22.442)" class="lg">500</text>
<path d="M550.2,703.70H580.6" stroke="#000" stroke-width="2.6"/>
<path d="M559.90,698.20H571.30L565.60,709.20Z" fill="#707070" stroke="#555" stroke-width="0.6"/>
<text x="598" y="711.80" transform="matrix(1,0,0,1.035,0,-24.913)" class="lg">50</text>
<path d="M550.2,774.30H580.6" stroke="#000" stroke-width="2.6"/>
<path d="M560.10,768.40H571.10L565.60,779.20Z" fill="#fff" stroke="#000" stroke-width="2.3" stroke-linejoin="round"/>
<text x="598" y="782.40" transform="matrix(1,0,0,1.035,0,-27.384)" class="lg">5</text>
<path d="M550.2,844.90H580.6" stroke="#000" stroke-width="2.6"/>
<circle cx="565.60" cy="844.90" r="5.75" fill="#fff" stroke="#000" stroke-width="3.4"/>
<text x="598" y="853.00" transform="matrix(1,0,0,1.035,0,-29.855)" class="lg">Control</text>
<text x="497.60" y="662.60" transform="matrix(1,0,0,1.035,0,-23.191)" class="st">*</text>
<text x="510.50" y="662.60" transform="matrix(1,0,0,1.035,0,-23.191)" class="st">*</text>
<text x="523.40" y="662.60" transform="matrix(1,0,0,1.035,0,-23.191)" class="st">*</text>
<text x="497.60" y="678.30" transform="matrix(1,0,0,1.035,0,-23.740)" class="st">*</text>
<text x="510.50" y="678.30" transform="matrix(1,0,0,1.035,0,-23.740)" class="st">*</text>
<text x="523.40" y="678.30" transform="matrix(1,0,0,1.035,0,-23.740)" class="st">*</text>
<text x="497.10" y="770.00" transform="matrix(1,0,0,1.035,0,-26.950)" class="st">*</text>
</svg>
</body></html>
